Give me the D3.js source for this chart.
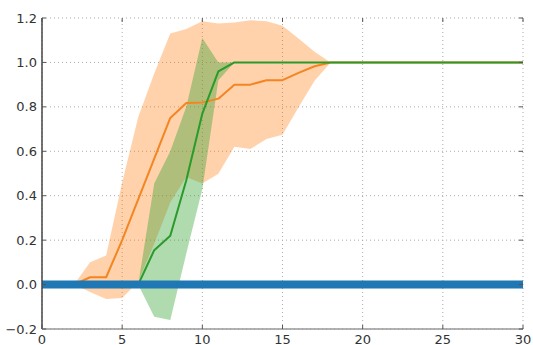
<!DOCTYPE html>
<html>
<head>
<meta charset="utf-8">
<script src="https://cdn.jsdelivr.net/npm/d3@7"></script>
<style>
  html, body { margin: 0; padding: 0; background: #fff; }
  svg { display: block; }
  text { font-family: "DejaVu Sans", sans-serif; font-size: 13px; fill: #333; }
</style>
</head>
<body>
<svg id="chart" width="533" height="345"></svg>
<script>
// Episode index shared by every series
const steps = d3.range(0, 31);

// Baseline series (flat at zero)
const blueMean = steps.map(() => 0);

// Orange series: mean and standard deviation per step
const orangeMean = [0, 0, 0, 0.033, 0.033, 0.2, 0.383, 0.567, 0.75, 0.817, 0.82,
  0.837, 0.9, 0.9, 0.92, 0.92, 0.953, 0.983, 1, 1, 1,
  1, 1, 1, 1, 1, 1, 1, 1, 1, 1];
const orangeStd = [0, 0, 0, 0.067, 0.098, 0.26, 0.37, 0.383, 0.38, 0.333, 0.365,
  0.338, 0.28, 0.29, 0.265, 0.245, 0.155, 0.065, 0, 0, 0,
  0, 0, 0, 0, 0, 0, 0, 0, 0, 0];

// Green series: mean and standard deviation per step
const greenMean = [0, 0, 0, 0, 0, 0, 0, 0.155, 0.22, 0.47, 0.77,
  0.96, 1, 1, 1, 1, 1, 1, 1, 1, 1,
  1, 1, 1, 1, 1, 1, 1, 1, 1, 1];
const greenStd = [0, 0, 0, 0, 0, 0, 0, 0.3, 0.38, 0.33, 0.34,
  0.04, 0, 0, 0, 0, 0, 0, 0, 0, 0,
  0, 0, 0, 0, 0, 0, 0, 0, 0, 0];

const xTicks = [0, 5, 10, 15, 20, 25, 30];
const yTicks = [-0.2, 0.0, 0.2, 0.4, 0.6, 0.8, 1.0, 1.2];

const margin = { left: 42, right: 10, top: 18, bottom: 16 };
const W = 533, H = 345;

const svg = d3.select("#chart");
const x = d3.scaleLinear().domain([0, 30]).range([margin.left, W - margin.right]);
const y = d3.scaleLinear().domain([-0.2, 1.2]).range([H - margin.bottom, margin.top]);

const [x0, x1] = x.range();
const [yb, yt] = y.range();

// Dotted grid
const grid = svg.append("g").attr("stroke", "#aaa").attr("stroke-width", 1)
  .attr("stroke-dasharray", "1,3");
grid.selectAll(".gx").data(xTicks).join("line")
  .attr("x1", d => x(d)).attr("x2", d => x(d)).attr("y1", yb).attr("y2", yt);
grid.selectAll(".gy").data(yTicks).join("line")
  .attr("x1", x0).attr("x2", x1).attr("y1", d => y(d)).attr("y2", d => y(d));

// Shaded mean ± std bands
function band(mean, std) {
  return d3.area()
    .x((d, i) => x(steps[i]))
    .y0((d, i) => y(mean[i] - std[i]))
    .y1((d, i) => y(mean[i] + std[i]))(mean);
}
const plot = svg.append("g");
plot.append("path").attr("d", band(orangeMean, orangeStd))
  .attr("fill", "#ff7f0e").attr("fill-opacity", 0.35);
plot.append("path").attr("d", band(greenMean, greenStd))
  .attr("fill", "#2ca02c").attr("fill-opacity", 0.38);

// Mean lines
const line = d3.line().x((d, i) => x(steps[i])).y(d => y(d));
plot.append("path").attr("d", line(orangeMean)).attr("fill", "none")
  .attr("stroke", "#f38522").attr("stroke-width", 2).attr("stroke-linejoin", "round");
plot.append("path").attr("d", line(greenMean)).attr("fill", "none")
  .attr("stroke", "#2a9a2a").attr("stroke-width", 2).attr("stroke-linejoin", "round");
plot.append("path").attr("d", line(blueMean)).attr("fill", "none")
  .attr("stroke", "#1f77b4").attr("stroke-width", 8);

// Spines (left and bottom)
svg.append("line").attr("x1", x0).attr("x2", x0).attr("y1", yb).attr("y2", yt)
  .attr("stroke", "#444").attr("stroke-width", 1.5);
svg.append("line").attr("x1", x0).attr("x2", x1).attr("y1", yb).attr("y2", yb)
  .attr("stroke", "#999").attr("stroke-width", 1.5);

// Inward tick marks on all four sides
const tk = 4;
const ticks = svg.append("g").attr("stroke", "#555").attr("stroke-width", 1);
xTicks.forEach(v => {
  ticks.append("line").attr("x1", x(v)).attr("x2", x(v)).attr("y1", yb).attr("y2", yb - tk);
  ticks.append("line").attr("x1", x(v)).attr("x2", x(v)).attr("y1", yt).attr("y2", yt + tk);
});
yTicks.forEach(v => {
  ticks.append("line").attr("x1", x0).attr("x2", x0 + tk).attr("y1", y(v)).attr("y2", y(v));
  ticks.append("line").attr("x1", x1).attr("x2", x1 - tk).attr("y1", y(v)).attr("y2", y(v));
});

// Tick labels
const fmtY = d3.format(".1f");
svg.append("g").selectAll("text").data(yTicks).join("text")
  .attr("x", x0 - 5).attr("y", d => y(d))
  .attr("text-anchor", "end").attr("dominant-baseline", "central")
  .text(d => fmtY(d).replace("-", "\u2212"));
svg.append("g").selectAll("text").data(xTicks).join("text")
  .attr("x", d => x(d)).attr("y", yb + 5)
  .attr("text-anchor", "middle").attr("dominant-baseline", "hanging")
  .text(d => d);
</script>
</body>
</html>
